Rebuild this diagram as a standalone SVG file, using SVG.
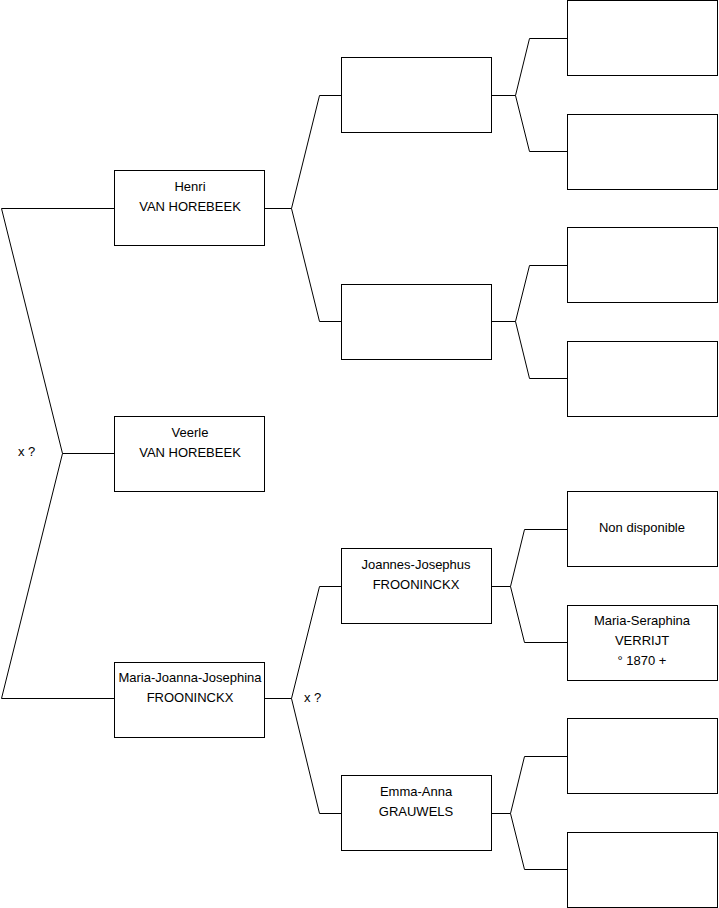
<svg xmlns="http://www.w3.org/2000/svg" width="719" height="908" viewBox="0 0 719 908">
<style>
rect{fill:#fff;stroke:#000;stroke-width:1}
.c{fill:none;stroke:#000;stroke-width:1}
text{font-family:"Liberation Sans",Arial,sans-serif;font-size:13px;fill:#000;text-anchor:middle}
.l{text-anchor:start}
</style>
<rect x="0" y="0" width="719" height="908" style="stroke:none"/>
<g id="connectors">
<path class="c" d="M114 208.5H1.5L62.5 453.5L1.5 698.5H114M62.5 453.5H114"/>
<path class="c" d="M265 208.5H291.5L319.5 95.5H341M291.5 208.5L319.5 321.5H341"/>
<path class="c" d="M265 698.5H291.5L319.5 586.5H341M291.5 698.5L319.5 813.5H341"/>
<path class="c" d="M491 95.5H515.5L529.5 38.5H567M515.5 95.5L529.5 151.5H567"/>
<path class="c" d="M491 321.5H515.5L529.5 265.5H567M515.5 321.5L529.5 378.5H567"/>
<path class="c" d="M491 586.5H510.5L524.5 529.5H567M510.5 586.5L524.5 642.5H567"/>
<path class="c" d="M491 813.5H510.5L524.5 756.5H567M510.5 813.5L524.5 869.5H567"/>
<text class="l" x="18" y="456">x ?</text>
<text class="l" x="304" y="702">x ?</text>
</g>
<g id="henri"><rect x="114.5" y="170.5" width="150" height="75"/><text x="190" y="191">Henri</text><text x="190" y="211">VAN HOREBEEK</text></g>
<g id="veerle"><rect x="114.5" y="416.5" width="150" height="75"/><text x="190" y="437">Veerle</text><text x="190" y="457">VAN HOREBEEK</text></g>
<g id="maria-joanna"><rect x="114.5" y="662.5" width="150" height="75"/><text x="190" y="682">Maria-Joanna-Josephina</text><text x="190" y="702">FROONINCKX</text></g>
<g id="f1"><rect x="341.5" y="57.5" width="150" height="75"/></g>
<g id="m1"><rect x="341.5" y="284.5" width="150" height="75"/></g>
<g id="joannes"><rect x="341.5" y="548.5" width="150" height="75"/><text x="416" y="569">Joannes-Josephus</text><text x="416" y="589">FROONINCKX</text></g>
<g id="emma"><rect x="341.5" y="775.5" width="150" height="75"/><text x="416" y="796">Emma-Anna</text><text x="416" y="816">GRAUWELS</text></g>
<g id="ff1"><rect x="567.5" y="0.5" width="150" height="75"/></g>
<g id="fm1"><rect x="567.5" y="114.5" width="150" height="75"/></g>
<g id="mf1"><rect x="567.5" y="227.5" width="150" height="75"/></g>
<g id="mm1"><rect x="567.5" y="341.5" width="150" height="75"/></g>
<g id="nondispo"><rect x="567.5" y="491.5" width="150" height="75"/><text x="642" y="532">Non disponible</text></g>
<g id="maria-seraphina"><rect x="567.5" y="605.5" width="150" height="75"/><text x="642" y="625">Maria-Seraphina</text><text x="642" y="645">VERRIJT</text><text x="642" y="665">° 1870 +</text></g>
<g id="mf2"><rect x="567.5" y="718.5" width="150" height="75"/></g>
<g id="mm2"><rect x="567.5" y="832.5" width="150" height="75"/></g>
</svg>
